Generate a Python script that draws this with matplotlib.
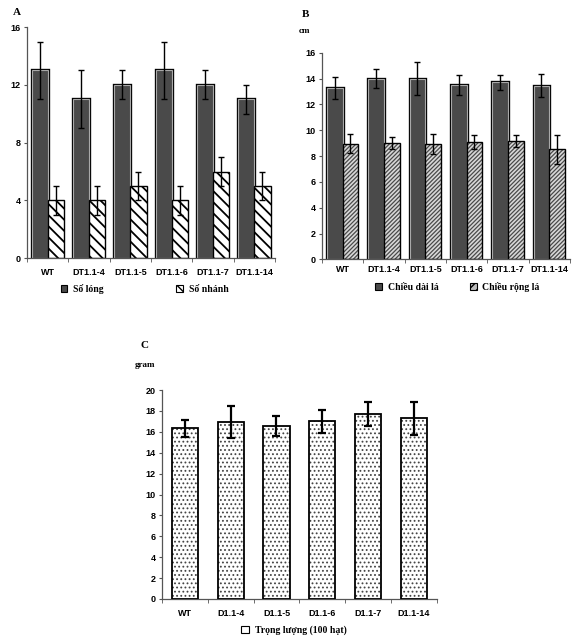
import numpy as np
import matplotlib
matplotlib.use("Agg")
import matplotlib.pyplot as plt
import matplotlib.patheffects as pe
from matplotlib.patches import Patch

# ---- data ----
lines_a = ['WT', 'DT1.1-4', 'DT1.1-5', 'DT1.1-6', 'DT1.1-7', 'DT1.1-14']
so_long = [13, 11, 12, 13, 12, 11]
so_long_err = [2, 2, 1, 2, 1, 1]
so_nhanh = [4, 4, 5, 4, 6, 5]
so_nhanh_err = [1, 1, 1, 1, 1, 1]

lines_b = ['WT', 'DT1.1-4', 'DT1.1-5', 'DT1.1-6', 'DT1.1-7', 'DT1.1-14']
chieu_dai = [13.25, 14.0, 14.0, 13.5, 13.7, 13.45]
chieu_dai_err = [0.85, 0.75, 1.25, 0.75, 0.55, 0.9]
chieu_rong = [8.97, 9.0, 8.92, 9.08, 9.15, 8.51]
chieu_rong_err = [0.77, 0.48, 0.77, 0.54, 0.47, 1.11]

lines_c = ['WT', 'D1.1-4', 'D1.1-5', 'D1.1-6', 'D1.1-7', 'D1.1-14']
trong_luong = [16.35, 16.95, 16.55, 17.0, 17.75, 17.3]
trong_luong_err = [0.8, 1.55, 0.95, 1.1, 1.15, 1.6]

TICK_FONT = dict(family='Liberation Sans', weight='bold', size=6.5)
SERIF = dict(family='Liberation Serif', weight='bold')
LEG_PROP = dict(family='Liberation Serif', weight='bold', size=7)
DARK = '#4a4a4a'
AXCOL = '#555555'
ERR = dict(ecolor='black', elinewidth=1.0, capsize=2.2, capthick=1.0)
edge_fx = [pe.Stroke(linewidth=2.4, foreground='black'), pe.Normal()]


def style_axis(ax, labels, yticks, ymax, xpad):
    x = np.arange(len(labels))
    ax.set_xlim(-0.5, len(labels) - 0.5)
    ax.set_ylim(0, ymax)
    ax.set_yticks(yticks)
    ax.set_yticklabels([str(t) for t in yticks], fontdict=TICK_FONT)
    ax.set_xticks(x)
    ax.set_xticklabels(labels, fontdict=TICK_FONT)
    ax.set_xticks(np.arange(-0.5, len(labels)), minor=True)
    ax.tick_params(axis='x', which='major', length=0, pad=xpad)
    ax.tick_params(axis='x', which='minor', length=3, color=AXCOL, direction='out')
    ax.tick_params(axis='y', length=2.5, color=AXCOL, pad=2)
    for s in ['top', 'right']:
        ax.spines[s].set_visible(False)
    for s in ['left', 'bottom']:
        ax.spines[s].set_color(AXCOL)
        ax.spines[s].set_linewidth(0.9)


fig = plt.figure(figsize=(5.81, 6.39), dpi=100)

# ---- panel A ----
axA = fig.add_axes([0.0465, 0.596, 0.427, 0.3615])
x = np.arange(len(lines_a))
w = 0.39
axA.bar(x - w / 2, so_long, w, color=DARK, edgecolor='#a8a8a8', linewidth=0.8,
        yerr=so_long_err, error_kw=ERR, path_effects=edge_fx, zorder=2)
with plt.rc_context({'hatch.linewidth': 1.3}):
    axA.bar(x + w / 2, so_nhanh, w, color='white', edgecolor='black', linewidth=1.0,
            hatch='\\\\\\', yerr=so_nhanh_err, error_kw=ERR, zorder=2)
style_axis(axA, lines_a, [0, 4, 8, 12, 16], 16, 7)
fig.text(0.029, 0.988, 'A', ha='center', va='top', fontsize=8, **SERIF)
fig.legend(handles=[Patch(facecolor=DARK, edgecolor='black', linewidth=0.8),
                    Patch(facecolor='white', edgecolor='black', hatch='\\\\\\\\', linewidth=0.8)],
           labels=['Số lóng', 'Số nhánh'], loc='center left',
           bbox_to_anchor=(0.0894, 0.548), ncol=2, frameon=False,
           handlelength=0.7, handleheight=0.7, handletextpad=0.6,
           columnspacing=7.4, prop=LEG_PROP)

# ---- panel B ----
axB = fig.add_axes([0.554, 0.594, 0.427, 0.3235])
x = np.arange(len(lines_b))
w = 0.38
axB.bar(x - w / 2, chieu_dai, w, color=DARK, edgecolor='#a8a8a8', linewidth=0.8,
        yerr=chieu_dai_err, error_kw=ERR, path_effects=edge_fx, zorder=2)
with plt.rc_context({'hatch.linewidth': 0.9}):
    axB.bar(x + w / 2, chieu_rong, w, color='#d8d8d8', edgecolor='#4a4a4a', linewidth=0,
            hatch='////////', zorder=2)
axB.bar(x + w / 2, chieu_rong, w, color='none', edgecolor='black', linewidth=1.0,
        yerr=chieu_rong_err, error_kw=ERR, zorder=3)
style_axis(axB, lines_b, list(range(0, 17, 2)), 16, 4)
fig.text(0.525, 0.977, 'B', ha='center', va='center', fontsize=8, **SERIF)
fig.text(0.524, 0.951, 'cm', ha='center', va='center', fontsize=6.5, **SERIF)
fig.legend(handles=[Patch(facecolor=DARK, edgecolor='black', linewidth=0.8),
                    Patch(facecolor='#bbbbbb', edgecolor='black', hatch='////', linewidth=0.8)],
           labels=['Chiều dài lá', 'Chiều rộng lá'], loc='center left',
           bbox_to_anchor=(0.631, 0.551), ncol=2, frameon=False,
           handlelength=0.7, handleheight=0.7, handletextpad=0.6,
           columnspacing=3.2, prop=LEG_PROP)

# ---- panel C ----
axC = fig.add_axes([0.2788, 0.0626, 0.473, 0.327])
x = np.arange(len(lines_c))
with plt.rc_context({'hatch.linewidth': 0.8}):
    axC.bar(x, trong_luong, 0.57, color='white', edgecolor='#444444', linewidth=0,
            hatch='....', zorder=2)
axC.bar(x, trong_luong, 0.57, color='none', edgecolor='black', linewidth=1.3,
        yerr=trong_luong_err, error_kw=dict(ecolor='black', elinewidth=1.6,
                                            capsize=2.8, capthick=1.6), zorder=3)
style_axis(axC, lines_c, list(range(0, 21, 2)), 20, 7)
fig.text(0.248, 0.46, 'C', ha='center', va='center', fontsize=8, **SERIF)
fig.text(0.249, 0.429, 'gram', ha='center', va='center', fontsize=6.5, **SERIF)
fig.legend(handles=[Patch(facecolor='white', edgecolor='black', linewidth=0.8)],
           labels=['Trọng lượng (100 hạt)'], loc='center left',
           bbox_to_anchor=(0.40, 0.014), frameon=False,
           handlelength=0.8, handleheight=0.8, handletextpad=0.6,
           prop=LEG_PROP)

fig.savefig('out.png', dpi=100)
